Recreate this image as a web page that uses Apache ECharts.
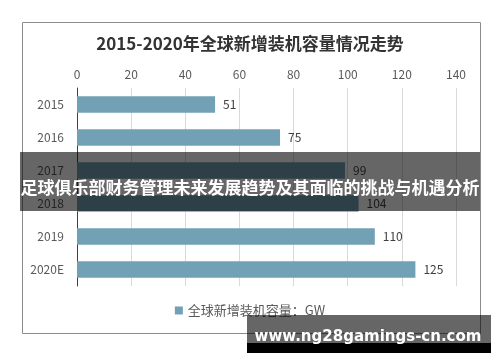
<!DOCTYPE html>
<html>
<head>
<meta charset="utf-8">
<script src="https://cdn.jsdelivr.net/npm/echarts@6/dist/echarts.min.js"></script>
<style>html,body{margin:0;padding:0;background:#fff;}#c{width:500px;height:362px;}</style>
</head>
<body>
<div id="c"></div>
<script>
var categories = ['2015', '2016', '2017', '2018', '2019', '2020E'];
var capacity = [51, 75, 99, 104, 110, 125];
var xTicks = [0, 20, 40, 60, 80, 100, 120, 140];
var titleText = '2015-2020年全球新增装机容量情况走势';
var seriesName = '全球新增装机容量：GW';
var bannerText = '足球俱乐部财务管理未来发展趋势及其面临的挑战与机遇分析';
var watermarkText = 'www.ng28gamings-cn.com';

var FONT = '"Noto Sans CJK SC", "Noto Sans", sans-serif';
var chart = echarts.init(document.getElementById('c'), null, {renderer: 'canvas'});
chart.setOption({
  animation: false,
  backgroundColor: '#ffffff',
  title: {
    text: titleText,
    left: 'center',
    top: 30,
    textStyle: {fontFamily: FONT, fontSize: 17, fontWeight: 'bold', color: '#333333'}
  },
  grid: {left: 77, right: 44, top: 88, bottom: 76},
  legend: {
    bottom: 40,
    left: 'center',
    icon: 'rect',
    itemWidth: 8,
    itemHeight: 8,
    itemGap: 4,
    textStyle: {fontFamily: FONT, fontSize: 13, color: '#595959'},
    data: [seriesName]
  },
  xAxis: {
    type: 'value',
    position: 'top',
    min: xTicks[0],
    max: xTicks[xTicks.length - 1],
    interval: xTicks[1] - xTicks[0],
    axisLine: {show: false},
    axisTick: {show: false},
    axisLabel: {fontFamily: FONT, fontSize: 12, color: '#595959', margin: 8},
    splitLine: {show: true, lineStyle: {color: '#d9d9d9', width: 1}}
  },
  yAxis: {
    type: 'category',
    inverse: true,
    data: categories,
    axisLine: {show: true, lineStyle: {color: '#404040', width: 1}},
    axisTick: {show: false},
    axisLabel: {fontFamily: FONT, fontSize: 12, color: '#595959', margin: 13}
  },
  series: [{
    name: seriesName,
    type: 'bar',
    data: capacity,
    barCategoryGap: '50%',
    itemStyle: {color: '#72a0b4'},
    label: {show: true, position: 'right', distance: 8, fontFamily: FONT, fontSize: 12, color: '#404040'}
  }],
  graphic: [
    {type: 'rect', z: 1, silent: true, shape: {x: 22.5, y: 22.5, width: 458, height: 311},
     style: {fill: null, stroke: '#8c8c8c', lineWidth: 1}},
    {type: 'rect', z: 100, silent: true, shape: {x: 20, y: 152, width: 460, height: 59},
     style: {fill: 'rgba(0,0,0,0.6)'}},
    {type: 'text', z: 101, silent: true, x: 250, y: 188,
     style: {text: bannerText, fill: '#ffffff', font: 'bold 17px ' + FONT, textAlign: 'center', textVerticalAlign: 'middle'}},
    {type: 'rect', z: 100, silent: true, shape: {x: 247, y: 315, width: 244, height: 28},
     style: {fill: 'rgba(0,0,0,0.6)'}},
    {type: 'rect', z: 100, silent: true, shape: {x: 247, y: 343, width: 244, height: 10},
     style: {fill: '#000000'}},
    {type: 'text', z: 101, silent: true, x: 368, y: 337,
     style: {text: watermarkText, fill: '#ffffff', font: 'bold 15px "DejaVu Sans", sans-serif', textAlign: 'center', textVerticalAlign: 'middle'}}
  ]
});
</script>
</body>
</html>
